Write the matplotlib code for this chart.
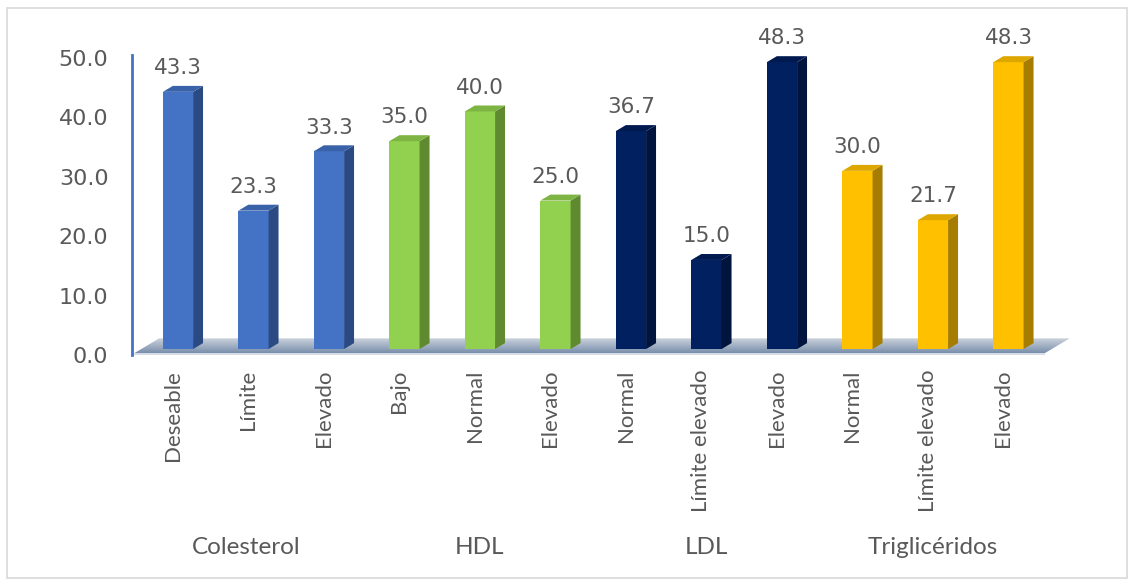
import numpy as np
import matplotlib.pyplot as plt
from matplotlib.colors import LinearSegmentedColormap
from matplotlib.patches import Polygon, Rectangle

# Porcentajes por categoría de perfil lipídico
grupos = ['Colesterol', 'HDL', 'LDL', 'Triglicéridos']
categorias = ['Deseable', 'Límite', 'Elevado',
              'Bajo', 'Normal', 'Elevado',
              'Normal', 'Límite elevado', 'Elevado',
              'Normal', 'Límite elevado', 'Elevado']
valores = [43.3, 23.3, 33.3,
           35.0, 40.0, 25.0,
           36.7, 15.0, 48.3,
           30.0, 21.7, 48.3]
grupo_idx = [0, 0, 0, 1, 1, 1, 2, 2, 2, 3, 3, 3]

# frente, lateral, tapa
colores = [('#4472C4', '#2B4A84', '#3A62A8'),
           ('#92D050', '#5F8A2F', '#7DB443'),
           ('#002060', '#00143E', '#001A50'),
           ('#FFC000', '#A67D00', '#DDA700')]

W, H, DPI = 1134, 583, 100
fig = plt.figure(figsize=(W / DPI, H / DPI), dpi=DPI)
fig.patches.append(Rectangle((7 / W, 5 / H), 1120 / W, 570 / H, transform=fig.transFigure,
                             fill=False, edgecolor='#D9D9D9', linewidth=1.2))

ax = fig.add_axes([132 / W, 228 / H, 938 / W, 300 / H])
ax.set_xlim(-0.609, 11.815)
ax.set_ylim(0, 50.5)

gris = '#595959'
fuente_ejes = ['Lato', 'DejaVu Sans']
ancho = 0.40
dx, dy = 0.132, 1.0   # profundidad de las barras
base = 1.0

# piso con degradado
fx0, fx1 = -0.58, 11.48
fy0 = 0.3
fdx, fdy = 0.33, 2.5
piso = Polygon([(fx0, fy0), (fx1, fy0), (fx1 + fdx, fy0 + fdy), (fx0 + fdx, fy0 + fdy)],
               closed=True, facecolor='none', edgecolor='none')
ax.add_patch(piso)
grad = np.linspace(0, 1, 50).reshape(-1, 1)
cmap_piso = LinearSegmentedColormap.from_list('piso', ['#7A8FAC', '#CBD2DC'])
img = ax.imshow(grad, extent=(fx0, fx1 + fdx, fy0, fy0 + fdy), origin='lower', aspect='auto',
                cmap=cmap_piso, zorder=1)
img.set_clip_path(piso)
ax.add_patch(Polygon([(fx0, fy0), (fx1, fy0), (fx1, 0), (fx0, 0)], closed=True,
                     facecolor='#D6DCE6', edgecolor='none', zorder=1, clip_on=False))

for i, v in enumerate(valores):
    frente, lado, tapa = colores[grupo_idx[i]]
    x0, x1 = i - ancho / 2, i + ancho / 2
    ax.add_patch(Rectangle((x0, base), ancho, v, facecolor=frente, edgecolor='none', zorder=3))
    ax.add_patch(Polygon([(x1, base), (x1 + dx, base + dy), (x1 + dx, base + v + dy), (x1, base + v)],
                         closed=True, facecolor=lado, edgecolor='none', zorder=3))
    ax.add_patch(Polygon([(x0, base + v), (x1, base + v), (x1 + dx, base + v + dy), (x0 + dx, base + v + dy)],
                         closed=True, facecolor=tapa, edgecolor='none', zorder=3))
    ax.text(i, base + v + dy + 1.3, f'{v:.1f}', ha='center', va='bottom',
            fontsize=15.5, color=gris, clip_on=False)

# etiquetas de categoría y de grupo
for i, c in enumerate(categorias):
    ax.text(i - 0.07, -2.5, c, rotation=90, ha='center', va='top', fontsize=16,
            family=fuente_ejes, color=gris, clip_on=False)
for g, nombre in enumerate(grupos):
    xc = 3 * g + 1 - (0.09 if g == 0 else 0)
    ax.text(xc, -32.4, nombre, ha='center', va='center', fontsize=17.5,
            family=fuente_ejes, color=gris, clip_on=False)

ax.set_xticks([])
ax.set_yticks(np.arange(0, 51, 10))
ax.set_yticklabels([f'{t:.1f}' for t in np.arange(0, 51, 10)])
ax.tick_params(axis='y', length=0, pad=17, labelsize=16, labelcolor=gris)
for s in ['top', 'right', 'bottom']:
    ax.spines[s].set_visible(False)
ax.spines['left'].set_color('#4472C4')
ax.spines['left'].set_linewidth(2)
ax.patch.set_alpha(0)

fig.savefig('out.png', dpi=DPI)
